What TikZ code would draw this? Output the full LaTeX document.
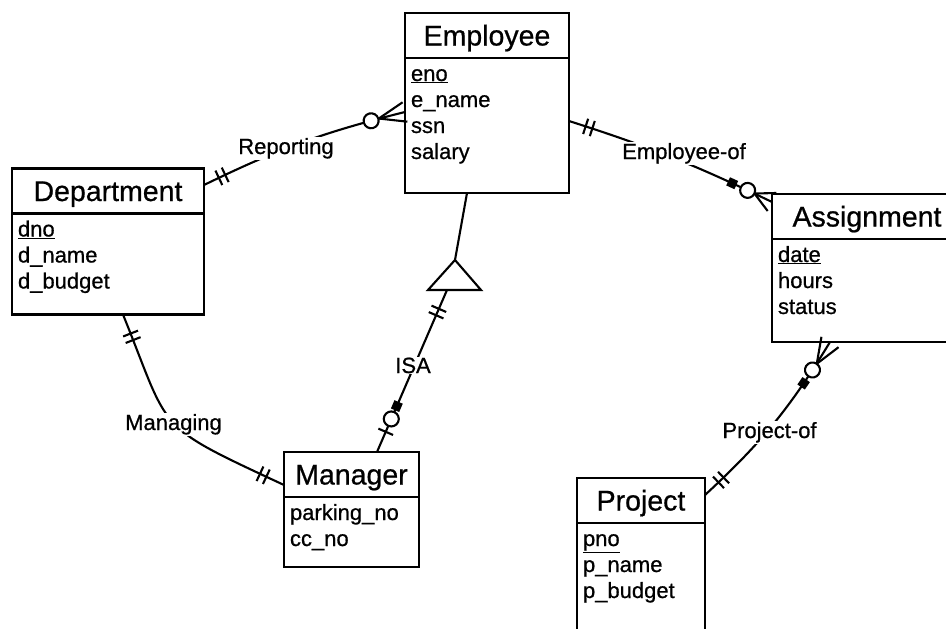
\documentclass[tikz,border=0pt]{standalone}
\usepackage{fontspec}
\setmainfont{Liberation Sans}[FakeBold=0.7]
\usetikzlibrary{positioning, decorations.markings}
\tikzset{
  conn/.style={line width=2.1pt},
  enttitle/.style={draw, line width=2.3pt, inner sep=0pt, outer sep=0pt, minimum height=45pt,
    font=\fontsize{28.5}{34}\selectfont, text height=20pt, text depth=0pt},
  entattr/.style={draw, line width=2.3pt, inner xsep=6pt, inner ysep=0pt, outer sep=0pt, align=left,
    font=\fontsize{22}{26}\selectfont, text height=23pt},
  rellabel/.style={fill=white, inner sep=1pt, anchor=base, font=\fontsize{22}{26}\selectfont},
  dblbar/.style={postaction={decorate, decoration={markings, mark=at position #1 with
    {\draw[conn] (-3.5pt,-8pt) -- (-3.5pt,8pt) (3.5pt,-8pt) -- (3.5pt,8pt);}}}},
  sglbar/.style={postaction={decorate, decoration={markings, mark=at position #1 with
    {\draw[conn] (0pt,-8pt) -- (0pt,8pt);}}}},
  ringmark/.style={postaction={decorate, decoration={markings, mark=at position #1 with
    {\draw[conn, fill=white] (0pt,0pt) circle (7.5pt);}}}},
  blobmark/.style={postaction={decorate, decoration={markings, mark=at position #1 with
    {\fill (-4.5pt,-4.5pt) rectangle (4.5pt,4.5pt);}}}},
  crowend/.style={postaction={decorate, decoration={markings, mark=at position 1 with
    {\draw[conn] (-#1,0pt) -- (0pt,-10pt) (-#1,0pt) -- (0pt,10pt);}}}},
  crowstart/.style={postaction={decorate, decoration={markings, mark=at position 0 with
    {\draw[conn] (#1,0pt) -- (0pt,-10pt) (#1,0pt) -- (0pt,10pt);}}}},
}

\begin{document}
\begin{tikzpicture}[x=1pt, y=-1pt]
  \useasboundingbox (0,0) rectangle (946,629);

  % entities
  \node[enttitle, minimum width=164pt] (empT) at (487,35.5) {Employee};
  \node[entattr, text width=152pt, text depth=112pt, below=0pt of empT] (empA) {\underline{eno}\\e\_name\\ssn\\salary};

  \node[enttitle, minimum width=192pt] (deptT) at (108,191) {Department};
  \node[entattr, text width=180pt, text depth=78pt, below=0pt of deptT] (deptA) {\underline{dno}\\d\_name\\d\_budget};

  \node[enttitle, minimum width=190pt] (asgT) at (867,216.5) {Assignment};
  \node[entattr, text width=178pt, text depth=80pt, below=0pt of asgT] (asgA) {\underline{date}\\hours\\status};

  \node[enttitle, minimum width=135pt] (mgrT) at (351.5,474.5) {Manager};
  \node[entattr, text width=123pt, text depth=47pt, below=0pt of mgrT] (mgrA) {parking\_no\\cc\_no};

  \node[enttitle, minimum width=128pt] (prjT) at (641,500.5) {Project};
  \node[entattr, text width=116pt, text depth=86pt, below=0pt of prjT] (prjA) {\underline{pno}\\p\_name\\p\_budget};

  % isa triangle
  \coordinate (isaTop) at (455,260);
  \coordinate (isaBot) at (447,290);
  \draw[conn, line join=miter] (isaTop) -- (428,290) -- (481,290) -- cycle;

  % relationships
  \draw[conn, dblbar=20pt, ringmark=-35pt, crowend=27pt] ([yshift=6pt]deptT.east) to[bend left=6] ([yshift=13.5pt]empA.west);
  \draw[conn, dblbar=21pt, blobmark=-44pt, ringmark=-27pt, crowend=19.5pt] ([yshift=4.5pt]empA.east) to[bend left=4] ([yshift=14.5pt]asgT.west);
  \draw[conn] ([xshift=-20pt]empA.south) -- (isaTop);
  \draw[conn, dblbar=24pt, blobmark=-50pt, ringmark=-36pt, sglbar=-22pt] (isaBot) -- ([xshift=25.5pt]mgrT.north);
  \draw[conn, dblbar=24pt, dblbar=-23pt] ([xshift=15pt]deptA.south) to[out=-68, in=155, out distance=129pt, in distance=145pt] ([yshift=-10.5pt]mgrT.west);
  \draw[conn, crowstart=25.5pt, ringmark=33pt, blobmark=49pt, dblbar=-22pt] ([xshift=-37pt]asgA.south) to[bend left=8] ([yshift=5.5pt]prjT.east);

  % labels
  \node[rellabel] (repL) at (286,154) {Reporting};
  \node[rellabel] (eofL) at (684,159) {Employee-of};
  \node[rellabel] (isaL) at (413,373) {ISA};
  \node[rellabel] (mngL) at (173.5,430) {Managing};
  \node[rellabel] (pofL) at (769.5,438) {Project-of};
\end{tikzpicture}
\end{document}
